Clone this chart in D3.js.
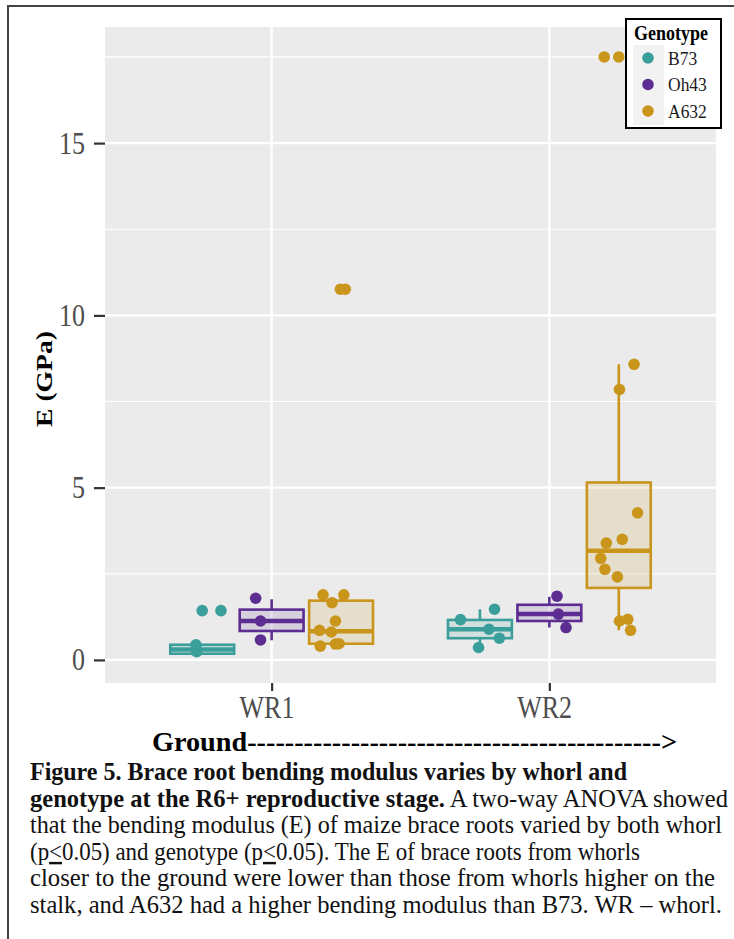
<!DOCTYPE html>
<html>
<head>
<meta charset="utf-8">
<script src="https://cdn.jsdelivr.net/npm/d3@7"></script>
<style>
  body { margin: 0; background: #fff; }
  svg { display: block; font-family: "Liberation Serif", "Times New Roman", serif; }
</style>
</head>
<body>
<svg id="chart" width="734" height="939"></svg>
<script>
// categories
const whorls = ["WR1", "WR2"];
const genotypes = ["B73", "Oh43", "A632"];
const colors = ["#3a9e9a", "#5e2d92", "#c9951b"];

// box stats, one entry per box (whorl x genotype)
const boxWhorl = ["WR1", "WR1", "WR1", "WR2", "WR2", "WR2"];
const boxGeno = ["B73", "Oh43", "A632", "B73", "Oh43", "A632"];
const whiskerLow = [0.18, 0.57, 0.40, 0.36, 0.94, 0.86];
const q1 = [0.18, 0.84, 0.47, 0.63, 1.13, 2.09];
const median = [0.30, 1.13, 0.83, 0.89, 1.33, 3.17];
const q3 = [0.44, 1.46, 1.72, 1.16, 1.60, 5.15];
const whiskerHigh = [0.44, 1.76, 1.89, 1.47, 1.83, 8.58];

// jittered observations (value, jitter as fraction of dodge width)
const wr1B73 = [1.43, 1.43, 0.44, 0.24];
const wr1B73Jit = [0.0, 0.27, -0.09, -0.08];
const wr1Oh43 = [1.79, 1.13, 0.58];
const wr1Oh43Jit = [-0.23, -0.16, -0.16];
const wr1A632 = [10.76, 10.76, 1.89, 1.89, 1.66, 1.13, 0.86, 0.81, 0.40, 0.46, 0.47];
const wr1A632Jit = [-0.01, 0.06, -0.26, 0.04, -0.13, -0.08, -0.31, -0.14, -0.30, -0.08, -0.03];
const wr2B73 = [1.17, 1.47, 0.89, 0.63, 0.36];
const wr2B73Jit = [-0.28, 0.21, 0.13, 0.28, -0.02];
const wr2Oh43 = [1.85, 1.33, 0.94];
const wr2Oh43Jit = [0.11, 0.13, 0.24];
const wr2A632 = [17.5, 17.5, 8.58, 7.85, 4.27, 3.50, 3.39, 2.95, 2.63, 2.41, 1.13, 1.18, 0.86];
const wr2A632Jit = [-0.21, 0.0, 0.22, 0.01, 0.27, 0.05, -0.18, -0.26, -0.20, -0.02, 0.01, 0.13, 0.17];

const yTicks = [0, 5, 10, 15];
const yMinor = [2.5, 7.5, 12.5, 17.5];

// build point table
const pointSets = [
  ["WR1", "B73", wr1B73, wr1B73Jit], ["WR1", "Oh43", wr1Oh43, wr1Oh43Jit], ["WR1", "A632", wr1A632, wr1A632Jit],
  ["WR2", "B73", wr2B73, wr2B73Jit], ["WR2", "Oh43", wr2Oh43, wr2Oh43Jit], ["WR2", "A632", wr2A632, wr2A632Jit]
];
const points = [];
pointSets.forEach(function (s) {
  s[2].forEach(function (v, i) {
    points.push({whorl: s[0], geno: s[1], value: v, jit: s[3][i]});
  });
});
const boxes = boxWhorl.map(function (w, i) {
  return {whorl: w, geno: boxGeno[i], lo: whiskerLow[i], q1: q1[i], med: median[i], q3: q3[i], hi: whiskerHigh[i]};
});

const panel = {left: 105, top: 27, right: 716, bottom: 683};
const stretch = 1.2; // the figure's lettering is taller than it is wide

const svg = d3.select("#chart");

// outer figure border (left and top only)
svg.append("path")
  .attr("d", "M8,939V6H734")
  .attr("fill", "none")
  .attr("stroke", "#444")
  .attr("stroke-width", 2);

const x = d3.scalePoint()
  .domain(whorls)
  .range([panel.left, panel.right])
  .padding(0.6);

const dodge = d3.scaleBand()
  .domain(genotypes)
  .range([-0.375 * x.step(), 0.375 * x.step()]);

const y = d3.scaleLinear()
  .domain([-0.67, 18.37])
  .range([panel.bottom, panel.top]);

const color = d3.scaleOrdinal().domain(genotypes).range(colors);

// panel background
svg.append("rect")
  .attr("x", panel.left)
  .attr("y", panel.top)
  .attr("width", panel.right - panel.left)
  .attr("height", panel.bottom - panel.top)
  .attr("fill", "#ebebeb");

// grid
const grid = svg.append("g");
grid.selectAll(".minor").data(yMinor).enter().append("line")
  .attr("x1", panel.left).attr("x2", panel.right)
  .attr("y1", d => y(d)).attr("y2", d => y(d))
  .attr("stroke", "#fff").attr("stroke-width", 1.2);
grid.selectAll(".major").data(yTicks).enter().append("line")
  .attr("x1", panel.left).attr("x2", panel.right)
  .attr("y1", d => y(d)).attr("y2", d => y(d))
  .attr("stroke", "#fff").attr("stroke-width", 2.4);
grid.selectAll(".vmajor").data(whorls).enter().append("line")
  .attr("x1", d => x(d)).attr("x2", d => x(d))
  .attr("y1", panel.top).attr("y2", panel.bottom)
  .attr("stroke", "#fff").attr("stroke-width", 2.4);

// axes
const yAxis = svg.append("g")
  .attr("transform", "translate(" + panel.left + ",0)")
  .call(d3.axisLeft(y).tickValues(yTicks).tickSize(11).tickPadding(9));
const xAxis = svg.append("g")
  .attr("transform", "translate(0," + panel.bottom + ")")
  .call(d3.axisBottom(x).tickSize(8).tickPadding(3));
[yAxis, xAxis].forEach(function (a) {
  a.select(".domain").remove();
  a.selectAll(".tick line").attr("stroke", "#333").attr("stroke-width", 2.2);
  a.selectAll(".tick text")
    .attr("fill", "#4d4d4d")
    .attr("transform", "scale(1," + stretch + ")")
    .style("font-family", "Liberation Serif")
    .style("font-size", "26px");
});
xAxis.selectAll(".tick text").attr("dx", "-0.2em");

// boxes
const bw = dodge.bandwidth() * 0.92;
const bx = svg.append("g");
boxes.forEach(function (b) {
  const cx = x(b.whorl) + dodge(b.geno) + dodge.bandwidth() / 2;
  const c = color(b.geno);
  const g = bx.append("g");
  g.append("line")
    .attr("x1", cx).attr("x2", cx)
    .attr("y1", y(b.hi)).attr("y2", y(b.q3))
    .attr("stroke", c).attr("stroke-width", 2.6);
  g.append("line")
    .attr("x1", cx).attr("x2", cx)
    .attr("y1", y(b.q1)).attr("y2", y(b.lo))
    .attr("stroke", c).attr("stroke-width", 2.6);
  g.append("rect")
    .attr("x", cx - bw / 2)
    .attr("y", y(b.q3))
    .attr("width", bw)
    .attr("height", y(b.q1) - y(b.q3))
    .attr("fill", c).attr("fill-opacity", 0.15)
    .attr("stroke", c).attr("stroke-width", 2.6);
  g.append("line")
    .attr("x1", cx - bw / 2).attr("x2", cx + bw / 2)
    .attr("y1", y(b.med)).attr("y2", y(b.med))
    .attr("stroke", c).attr("stroke-width", 4.5);
});

// points
svg.append("g").selectAll("circle")
  .data(points).enter().append("circle")
  .attr("cx", d => x(d.whorl) + dodge(d.geno) + dodge.bandwidth() / 2 + d.jit * dodge.bandwidth())
  .attr("cy", d => y(d.value))
  .attr("r", 5.8)
  .attr("fill", d => color(d.geno));

// y title
svg.append("text")
  .attr("transform", "translate(52,379) scale(1," + stretch + ") rotate(-90)")
  .attr("text-anchor", "middle")
  .style("font-weight", "bold")
  .style("font-size", "23px")
  .text("E (GPa)");

// x title
svg.append("text")
  .attr("transform", "translate(152,751) scale(1,1.1)")
  .attr("textLength", 525)
  .attr("lengthAdjust", "spacingAndGlyphs")
  .style("font-weight", "bold")
  .style("font-size", "25px")
  .text("Ground-------------------------------------------->");

// legend
const lg = svg.append("g");
lg.append("rect")
  .attr("x", 626).attr("y", 19).attr("width", 95).attr("height", 109)
  .attr("fill", "#fff").attr("stroke", "#000").attr("stroke-width", 2);
lg.append("text")
  .attr("transform", "translate(634,40) scale(1,1.12)")
  .style("font-weight", "bold").style("font-size", "18px")
  .text("Genotype");
lg.append("rect")
  .attr("x", 633).attr("y", 45).attr("width", 31).attr("height", 80)
  .attr("fill", "#f2f2f2");
genotypes.forEach(function (gname, i) {
  const cy = 58 + i * 26.5;
  lg.append("circle").attr("cx", 648).attr("cy", cy).attr("r", 5.8).attr("fill", color(gname));
  lg.append("text")
    .attr("transform", "translate(668," + (cy + 6.5) + ") scale(1,1.12)")
    .style("font-size", "17.5px").attr("fill", "#1a1a1a").text(gname);
});

// caption
const capLines = [
  [["Figure 5. Brace root bending modulus varies by whorl and", "b"]],
  [["genotype at the R6+ reproductive stage.", "b"], [" A two-way ANOVA showed", "n"]],
  [["that the bending modulus (E) of maize brace roots varied by both whorl", "n"]],
  [["(p", "n"], ["<", "u"], ["0.05) and genotype (p", "n"], ["<", "u"], ["0.05). The E of brace roots from whorls", "n"]],
  [["closer to the ground were lower than those from whorls higher on the", "n"]],
  [["stalk, and A632 had a higher bending modulus than B73. WR \u2013 whorl.", "n"]]
];
const capWidths = [597, 698, 692, 610, 685, 692];
capLines.forEach(function (line, i) {
  const t = svg.append("text")
    .attr("transform", "translate(30," + (780 + i * 26.6) + ") scale(1,1.1)")
    .style("font-size", "22px")
    .attr("fill", "#111");
  line.forEach(function (seg) {
    const ts = t.append("tspan").text(seg[0]);
    if (seg[1] === "b") ts.style("font-weight", "bold");
    if (seg[1] === "u") ts.style("text-decoration", "underline");
  });
  t.attr("textLength", capWidths[i]).attr("lengthAdjust", "spacingAndGlyphs");
});
</script>
</body>
</html>
